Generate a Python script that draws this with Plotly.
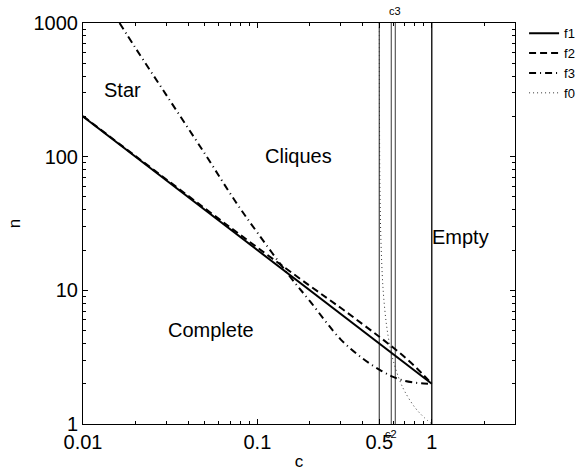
import math
import plotly.graph_objects as go

# Cost parameter c and boundary values n for each curve
c_f1 = [0.01, 0.02, 0.05, 0.1, 0.2, 0.3, 0.5, 0.7, 1.0]
n_f1 = [200, 100, 40, 20, 10, 6.67, 4.0, 2.86, 2.0]

c_f2 = [0.01, 0.02, 0.05, 0.1, 0.2, 0.3, 0.4, 0.5, 0.6, 0.7, 0.8, 0.9, 1.0]
n_f2 = [201, 101, 41, 20.9, 10.8, 7.4, 5.6, 4.5, 3.73, 3.16, 2.7, 2.31, 2.0]

c_f3 = [0.0162, 0.02, 0.03, 0.05, 0.075, 0.1, 0.15, 0.2, 0.3, 0.4, 0.5, 0.6, 0.7, 0.8, 0.9, 1.0]
n_f3 = [1000, 650, 290, 105, 46, 27, 13.2, 8.3, 4.3, 3.1, 2.55, 2.25, 2.1, 2.04, 2.01, 2.0]

c_f0 = [0.50025, 0.5005, 0.501, 0.5025, 0.505, 0.51, 0.52, 0.53, 0.55, 0.575, 0.6, 0.65, 0.7, 0.8, 0.9, 1.0]
n_f0 = [1000, 500, 250, 100, 50.5, 25.5, 13, 8.83, 5.5, 3.83, 3.0, 2.17, 1.75, 1.33, 1.125, 1.0]

# Thresholds marked by vertical lines
c_half = 0.5
c2 = 0.586
c3 = 0.618
c_one = 1.0

# Region names and their (c, n) anchor points
regions = ["Star", "Cliques", "Empty", "Complete"]
region_c = [0.0168, 0.1726, 1.47, 0.054]
region_n = [316, 101.6, 25.1, 5.07]

x_major = [0.01, 0.1, 0.5, 1]
x_major_text = ["0.01", "0.1", "0.5", "1"]
x_minor = [0.02, 0.03, 0.04, 0.05, 0.06, 0.07, 0.08, 0.09,
           0.2, 0.3, 0.4, 0.6, 0.7, 0.8, 0.9, 2, 3]
y_major = [1, 10, 100, 1000]
y_major_text = ["1", "10", "100", "1000"]
y_minor = [m * d for d in (1, 10, 100) for m in range(2, 10)]

FONT = "Liberation Sans, Arial, Helvetica, sans-serif"

fig = go.Figure()

# vertical threshold lines
for cv, col in [(c_half, "#555555"), (c2, "#666666"), (c3, "#666666"), (c_one, "black")]:
    fig.add_trace(go.Scatter(x=[cv, cv], y=[1, 1000], mode="lines",
                             line=dict(color=col, width=1.3),
                             showlegend=False, hoverinfo="skip"))

fig.add_trace(go.Scatter(x=c_f1, y=n_f1, mode="lines", name="f1",
                         line=dict(color="black", width=2)))
fig.add_trace(go.Scatter(x=c_f2, y=n_f2, mode="lines", name="f2",
                         line=dict(color="black", width=2, dash="7px,4px"), line_shape="spline"))
fig.add_trace(go.Scatter(x=c_f3, y=n_f3, mode="lines", name="f3",
                         line=dict(color="black", width=2, dash="7px,4px,1px,4px"), line_shape="spline"))
fig.add_trace(go.Scatter(x=c_f0, y=n_f0, mode="lines", name="f0",
                         line=dict(color="#333333", width=1, dash="1px,3px"), line_shape="spline"))

for name, cx, ny in zip(regions, region_c, region_n):
    fig.add_annotation(x=math.log10(cx), y=math.log10(ny), text=name, showarrow=False,
                       font=dict(size=20, color="black", family=FONT))

fig.add_annotation(x=math.log10(c3), y=1.0, yref="paper", yanchor="bottom", yshift=4,
                   text="c3", showarrow=False, font=dict(size=11, color="black", family=FONT))
fig.add_annotation(x=math.log10(c2), y=0.0, yref="paper", yanchor="top", yshift=-2,
                   text="c2", showarrow=False, font=dict(size=11, color="black", family=FONT))

axis_common = dict(type="log", showgrid=False, zeroline=False, showline=True,
                   linecolor="black", linewidth=1, mirror="allticks",
                   ticks="inside", ticklen=5, tickcolor="black", automargin=False,
                   tickfont=dict(size=20, color="black", family=FONT))

fig.update_xaxes(range=[-2, 0.4771], tickvals=x_major, ticktext=x_major_text,
                 minor=dict(tickvals=x_minor, ticks="inside", ticklen=3, tickcolor="black"),
                 title=dict(text="c", font=dict(size=17, color="black", family=FONT), standoff=4),
                 **axis_common)
fig.update_yaxes(range=[0, 3], tickvals=y_major, ticktext=y_major_text,
                 minor=dict(tickvals=y_minor, ticks="inside", ticklen=3, tickcolor="black"),
                 title=dict(text="n", font=dict(size=17, color="black", family=FONT), standoff=8),
                 **axis_common)

fig.update_layout(
    width=588, height=471,
    margin=dict(l=82.7, r=73, t=23.3, b=46.7, autoexpand=False),
    paper_bgcolor="white", plot_bgcolor="white",
    font=dict(family=FONT, color="black"),
    legend=dict(x=1.021, xanchor="left", y=1.012, yanchor="top",
                font=dict(size=13, family=FONT, color="black"),
                bgcolor="rgba(0,0,0,0)", borderwidth=0, tracegroupgap=0,
                itemwidth=30),
)

fig.write_html("out.html")
